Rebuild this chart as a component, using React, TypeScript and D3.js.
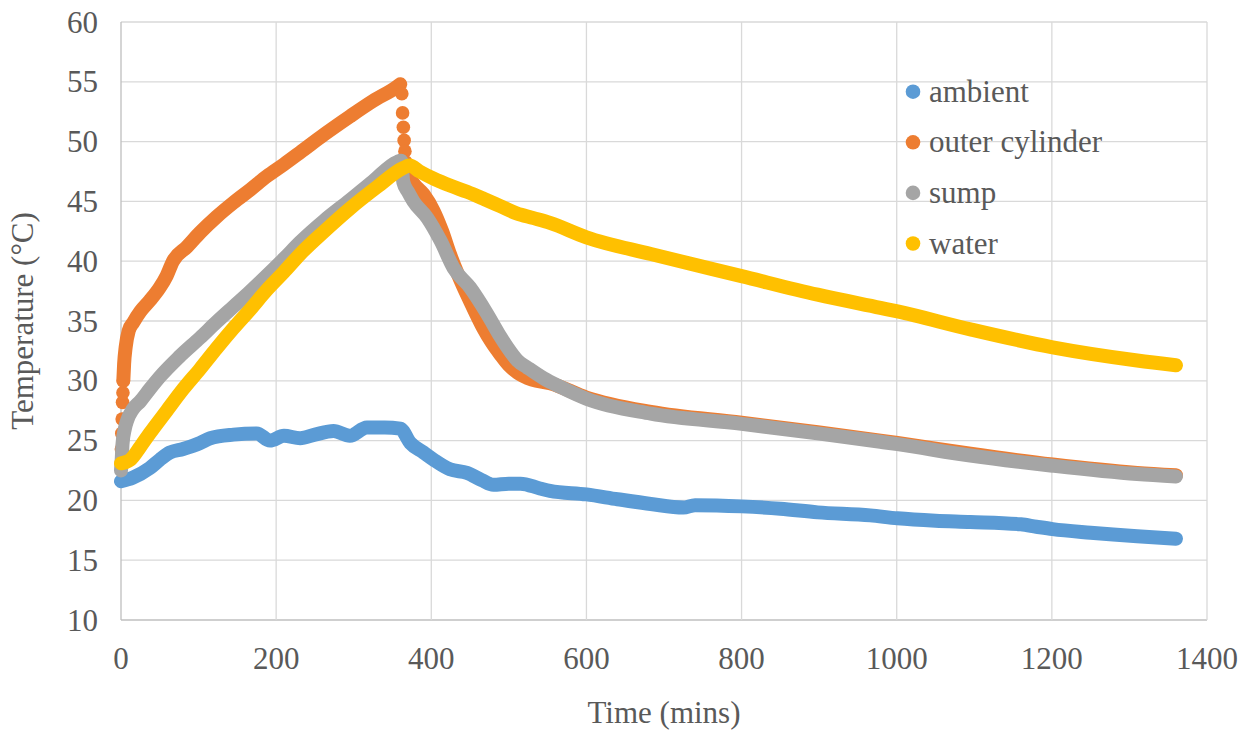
import React from 'react';
import * as d3 from 'd3';

type Pt = [number, number];

// time (mins), temperature (°C)
const ambient: Pt[] = [
  [0, 21.6], [15, 21.9], [37, 22.7], [50, 23.4], [63, 24.0], [80, 24.3], [102, 24.8], [115, 25.2],
  [145, 25.5], [175, 25.6], [192, 25.0], [210, 25.4], [231, 25.2], [250, 25.5], [274, 25.8],
  [295, 25.4], [317, 26.1], [340, 26.1], [360, 26.0], [373, 24.8], [390, 24.0], [403, 23.4],
  [424, 22.6], [446, 22.3], [465, 21.7], [480, 21.3], [500, 21.4], [515, 21.4], [540, 21.0],
  [553, 20.8], [600, 20.5], [640, 20.1], [683, 19.7], [725, 19.4], [740, 19.6], [800, 19.5],
  [850, 19.3], [898, 19.0], [966, 18.75], [1001, 18.5], [1050, 18.3], [1095, 18.2], [1160, 18.0],
  [1180, 17.8], [1201, 17.6], [1250, 17.3], [1310, 17.0], [1360, 16.8],
];

const outerStartDots: Pt[] = [
  [0.5, 24.3], [1, 25.6], [1.5, 26.8], [2, 28.2], [2.5, 29.0], [3, 30.0],
];
const outerRise: Pt[] = [
  [3, 30.0], [4, 31.4], [6, 32.8], [10, 34.2], [16, 34.9], [25, 35.8], [37, 36.7], [50, 37.8],
  [59, 38.8], [67, 40.0], [85, 41.2], [102, 42.4], [123, 43.7], [145, 44.9], [167, 46.0],
  [188, 47.1], [210, 48.1], [231, 49.1], [262, 50.6], [295, 52.1], [325, 53.4], [356, 54.6],
  [360, 54.8],
];
const outerDropDots: Pt[] = [
  [362, 54.0], [363, 52.4], [364, 51.2], [365, 50.1], [366, 49.2], [367, 48.3], [368, 47.5],
];
const outerFall: Pt[] = [
  [368, 47.5], [377, 46.5], [390, 45.6], [403, 44.2], [414, 42.5], [424, 40.6], [435, 38.8],
  [446, 37.2], [457, 35.7], [467, 34.4], [478, 33.2], [489, 32.2], [500, 31.3], [511, 30.7],
  [530, 30.1], [553, 29.8], [600, 28.6], [683, 27.4], [800, 26.5], [898, 25.7], [979, 25.0],
  [1001, 24.8], [1095, 23.9], [1201, 23.0], [1310, 22.3], [1360, 22.1],
];

const sump: Pt[] = [
  [0, 22.5], [1, 23.5], [2, 24.75], [5, 26.0], [8, 26.7], [15, 27.6], [25, 28.3], [37, 29.3],
  [51, 30.4], [75, 32.0], [102, 33.6], [123, 34.9], [145, 36.2], [167, 37.5], [188, 38.8],
  [210, 40.2], [231, 41.6], [262, 43.4], [295, 45.1], [325, 46.7], [356, 48.3], [361, 48.4],
  [364, 46.6], [370, 45.8], [377, 45.0], [395, 43.6], [412, 41.7], [429, 39.4], [450, 37.8],
  [472, 35.6], [489, 33.7], [498, 32.8], [511, 31.7], [524, 31.1], [545, 30.2], [566, 29.5],
  [600, 28.5], [683, 27.25], [800, 26.4], [898, 25.6], [979, 24.9], [1001, 24.7], [1095, 23.75],
  [1201, 22.9], [1310, 22.2], [1360, 22.0],
];

const water: Pt[] = [
  [0, 23.1], [6, 23.2], [12, 23.4], [25, 24.5], [37, 25.6], [59, 27.5], [80, 29.3], [102, 31.0],
  [123, 32.7], [145, 34.4], [167, 36.0], [188, 37.6], [210, 39.1], [231, 40.6], [262, 42.5],
  [295, 44.4], [330, 46.2], [364, 47.8], [372, 48.0], [385, 47.5], [403, 46.9], [425, 46.3],
  [446, 45.8], [468, 45.2], [489, 44.6], [510, 44.0], [532, 43.6], [553, 43.2], [600, 42.0],
  [683, 40.6], [800, 38.75], [898, 37.2], [979, 36.1], [1001, 35.8], [1095, 34.3], [1201, 32.8],
  [1310, 31.7], [1360, 31.3],
];

const seriesNames = ['ambient', 'outer cylinder', 'sump', 'water'];
const seriesColors = ['#5B9BD5', '#ED7D31', '#A5A5A5', '#FFC000'];
const xTicks = [0, 200, 400, 600, 800, 1000, 1200, 1400];
const yTicks = [10, 15, 20, 25, 30, 35, 40, 45, 50, 55, 60];

const W = 1251;
const H = 731;
const TEXT = '#595959';
const textStyle: React.CSSProperties = { fontFamily: "'Liberation Serif', serif", fontSize: 31, fill: TEXT };

export default function App() {
  const x = d3.scaleLinear().domain([0, 1400]).range([121, 1207]);
  const y = d3.scaleLinear().domain([10, 60]).range([620, 22]);
  const line = d3.line<Pt>().x(d => x(d[0])).y(d => y(d[1])).curve(d3.curveMonotoneX);

  const lw = 14;
  const r = 6.8;

  const path = (pts: Pt[], color: string) => (
    <path d={line(pts) || ''} fill="none" stroke={color} strokeWidth={lw}
      strokeLinecap="round" strokeLinejoin="round" />
  );
  const dots = (pts: Pt[], color: string) =>
    pts.map((p, i) => <circle key={i} cx={x(p[0])} cy={y(p[1])} r={r} fill={color} />);

  return (
    <svg width={W} height={H} style={{ position: 'absolute', left: 0, top: 0, background: '#fff' }}>
      {/* gridlines */}
      {yTicks.map(t => (
        <line key={'gy' + t} x1={x(0)} x2={x(1400)} y1={y(t)} y2={y(t)}
          stroke={t === 10 ? '#bfbfbf' : '#d9d9d9'} strokeWidth={1.3} />
      ))}
      {xTicks.map(t => (
        <line key={'gx' + t} x1={x(t)} x2={x(t)} y1={y(10)} y2={y(60)}
          stroke={t === 0 ? '#bfbfbf' : '#d9d9d9'} strokeWidth={1.3} />
      ))}

      {/* tick labels */}
      {yTicks.map(t => (
        <text key={'ly' + t} x={98} y={y(t) + 10.5} textAnchor="end" style={textStyle}>{t}</text>
      ))}
      {xTicks.map(t => (
        <text key={'lx' + t} x={x(t)} y={669} textAnchor="middle" style={textStyle}>{t}</text>
      ))}

      {/* axis titles */}
      <text x={(x(0) + x(1400)) / 2} y={723} textAnchor="middle" style={textStyle}>Time (mins)</text>
      <text transform={`translate(33, ${(y(10) + y(60)) / 2}) rotate(-90)`} textAnchor="middle"
        style={textStyle}>Temperature (°C)</text>

      {/* series */}
      <g>{path(ambient, seriesColors[0])}</g>
      <g>
        {dots(outerStartDots, seriesColors[1])}
        {path(outerRise, seriesColors[1])}
        {dots(outerDropDots, seriesColors[1])}
        {path(outerFall, seriesColors[1])}
      </g>
      <g>{path(sump, seriesColors[2])}</g>
      <g>{path(water, seriesColors[3])}</g>

      {/* legend */}
      {seriesNames.map((name, i) => (
        <g key={name} transform={`translate(913, ${91.7 + i * 50.6})`}>
          <circle r={7.3} fill={seriesColors[i]} />
          <text x={16} y={10} style={textStyle}>{name}</text>
        </g>
      ))}
    </svg>
  );
}
